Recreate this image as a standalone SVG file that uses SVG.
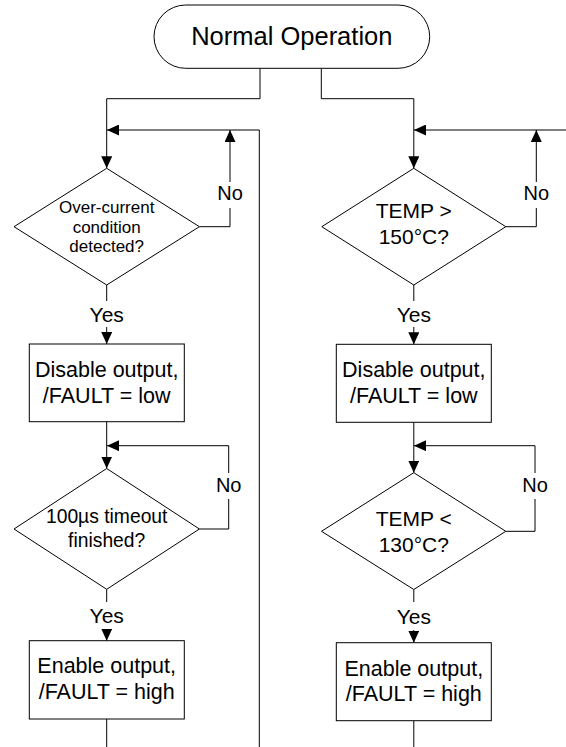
<svg xmlns="http://www.w3.org/2000/svg" width="566" height="747" viewBox="0 0 566 747">
<defs>
<style>
.s{fill:#fff;stroke:#000;stroke-width:1}
.c{fill:none;stroke:#000;stroke-width:1}
.t{font-family:"Liberation Sans",Arial,sans-serif;fill:#000;text-anchor:middle}
.bg{fill:#fff;stroke:none}
</style>
<marker id="arr" markerUnits="userSpaceOnUse" markerWidth="12" markerHeight="11" refX="12" refY="5.5" orient="auto">
<path d="M0,0 L12,5.5 L0,11 z" fill="#000"/>
</marker>
</defs>
<rect width="566" height="747" fill="#fff"/>
<g id="connectors">
<path class="c" d="M260,68.3 V98.7 H106.7 V168.3" marker-end="url(#arr)"/>
<path class="c" d="M321.3,68.3 V98.7 H413.8 V168.3" marker-end="url(#arr)"/>
<path class="c" d="M259.3,747 V130 H107" marker-end="url(#arr)"/>
<path class="c" d="M566,130 H414" marker-end="url(#arr)"/>
<path class="c" d="M199.4,226.7 H230 V130" marker-end="url(#arr)"/>
<path class="c" d="M505.8,226.7 H536.3 V130" marker-end="url(#arr)"/>
<path class="c" d="M106.7,285 V344" marker-end="url(#arr)"/>
<path class="c" d="M413.8,285 V344.3" marker-end="url(#arr)"/>
<path class="c" d="M106.7,421.7 V468.5" marker-end="url(#arr)"/>
<path class="c" d="M413.8,422.3 V472.7" marker-end="url(#arr)"/>
<path class="c" d="M199.4,529 H228.7 V445.7 H107" marker-end="url(#arr)"/>
<path class="c" d="M505.8,531.3 H535 V445.7 H414" marker-end="url(#arr)"/>
<path class="c" d="M106.7,589.3 V640.7" marker-end="url(#arr)"/>
<path class="c" d="M413.8,589.5 V642.7" marker-end="url(#arr)"/>
<path class="c" d="M106.7,719 V747"/>
<path class="c" d="M413.8,720.7 V747"/>
<g id="lbl-no1"><rect class="bg" x="215" y="182" width="30" height="26"/><text class="t" x="230" y="200" font-size="20">No</text></g>
<g id="lbl-no2"><rect class="bg" x="521" y="182" width="30" height="26"/><text class="t" x="536.3" y="200" font-size="20">No</text></g>
<g id="lbl-no3"><rect class="bg" x="214" y="473" width="30" height="26"/><text class="t" x="228.7" y="491.7" font-size="20">No</text></g>
<g id="lbl-no4"><rect class="bg" x="520" y="473" width="30" height="26"/><text class="t" x="535" y="491.7" font-size="20">No</text></g>
<g id="lbl-yes1"><rect class="bg" x="86" y="301" width="42" height="26"/><text class="t" x="106.7" y="321.7" font-size="21">Yes</text></g>
<g id="lbl-yes2"><rect class="bg" x="393" y="301" width="42" height="26"/><text class="t" x="413.8" y="321.7" font-size="21">Yes</text></g>
<g id="lbl-yes3"><rect class="bg" x="86" y="602" width="42" height="27"/><text class="t" x="106.7" y="622.7" font-size="21">Yes</text></g>
<g id="lbl-yes4"><rect class="bg" x="393" y="602" width="42" height="28"/><text class="t" x="413.8" y="624" font-size="21">Yes</text></g>
</g>
<g id="start">
<rect class="s" x="154" y="5" width="275.7" height="63.3" rx="31.65" ry="31.65"/>
<text class="t" x="291.8" y="45" font-size="25.5">Normal Operation</text>
</g>
<g id="oc-detect">
<polygon class="s" points="106.7,168.3 199.4,226.7 106.7,285 14,226.7"/>
<text class="t" x="106.7" y="213" font-size="17">Over-current</text>
<text class="t" x="106.7" y="232.5" font-size="17">condition</text>
<text class="t" x="106.7" y="252" font-size="17">detected?</text>
</g>
<g id="temp-high">
<polygon class="s" points="413.8,168.3 505.8,226.7 413.8,285 321.8,226.7"/>
<text class="t" x="413.8" y="218.3" font-size="21">TEMP &gt;</text>
<text class="t" x="413.8" y="243.5" font-size="21">150°C?</text>
</g>
<g id="disable-left">
<rect class="s" x="29.3" y="344" width="155" height="77.7"/>
<text class="t" x="106.7" y="377.3" font-size="21.5">Disable output,</text>
<text class="t" x="106.7" y="402.7" font-size="21.5">/FAULT = low</text>
</g>
<g id="disable-right">
<rect class="s" x="336.3" y="344.3" width="155" height="78"/>
<text class="t" x="413.8" y="376.7" font-size="21.5">Disable output,</text>
<text class="t" x="413.8" y="402.7" font-size="21.5">/FAULT = low</text>
</g>
<g id="timeout">
<polygon class="s" points="106.7,468.5 199.4,529 106.7,589.3 14,529"/>
<text class="t" x="106.7" y="523.3" font-size="19.3">100µs timeout</text>
<text class="t" x="106.7" y="546.7" font-size="19.3">finished?</text>
</g>
<g id="temp-low">
<polygon class="s" points="413.8,472.7 505.8,531.3 413.8,589.5 321.5,531.3"/>
<text class="t" x="413.8" y="526" font-size="21">TEMP &lt;</text>
<text class="t" x="413.8" y="551.7" font-size="21">130°C?</text>
</g>
<g id="enable-left">
<rect class="s" x="29.3" y="640.7" width="155" height="78.3"/>
<text class="t" x="106.7" y="673.3" font-size="21.5">Enable output,</text>
<text class="t" x="106.7" y="699.3" font-size="21.5">/FAULT = high</text>
</g>
<g id="enable-right">
<rect class="s" x="336.3" y="642.7" width="155" height="78"/>
<text class="t" x="413.8" y="675.7" font-size="21.5">Enable output,</text>
<text class="t" x="413.8" y="701" font-size="21.5">/FAULT = high</text>
</g>
</svg>
